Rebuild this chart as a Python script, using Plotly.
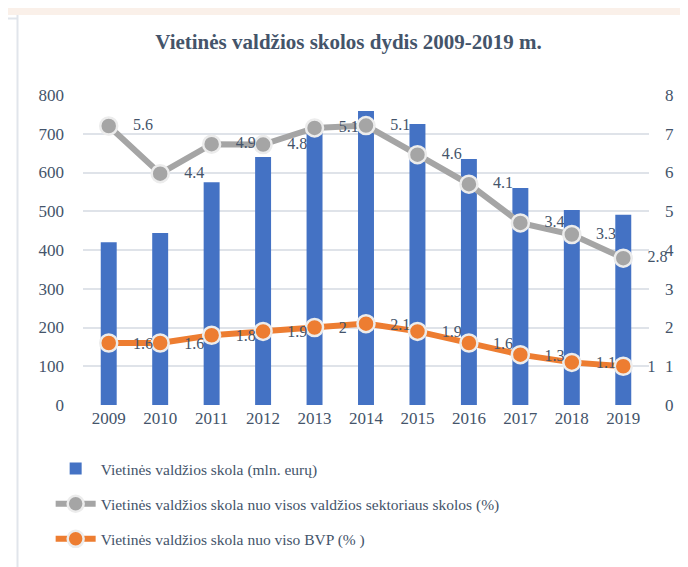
import plotly.graph_objects as go

years = ["2009", "2010", "2011", "2012", "2013", "2014", "2015", "2016", "2017", "2018", "2019"]
debt_mln = [420, 444, 575, 640, 705, 759, 725, 635, 560, 503, 491]
# grey line as drawn on the right axis, and the labels printed next to it
sector_share_plotted = [7.2, 5.97, 6.73, 6.72, 7.15, 7.21, 6.46, 5.7, 4.7, 4.4, 3.79]
sector_share_labels = ["5.6", "4.4", "4.9", "4.8", "5.1", "5.1", "4.6", "4.1", "3.4", "3.3", "2.8"]
gdp_share = [1.6, 1.6, 1.8, 1.9, 2.0, 2.1, 1.9, 1.6, 1.3, 1.1, 1.0]
gdp_share_labels = ["1.6", "1.6", "1.8", "1.9", "2", "2.1", "1.9", "1.6", "1.3", "1.1", "1"]
left_ticks = [0, 100, 200, 300, 400, 500, 600, 700, 800]
right_ticks = [0, 1, 2, 3, 4, 5, 6, 7, 8]

TEXT = "#44546a"
SERIF = "Liberation Serif, DejaVu Serif, serif"
xs = list(range(len(years)))
label_x = [x + 0.47 for x in xs]

fig = go.Figure()
fig.add_trace(go.Bar(
    x=xs, y=debt_mln, width=0.31, name="Vietinės valdžios skola (mln. eurų)",
    marker=dict(color="#4472c4", line=dict(width=0)),
    legendgroup="a",
))
fig.add_trace(go.Scatter(
    x=xs, y=sector_share_plotted, yaxis="y2", mode="lines+markers",
    name="Vietinės valdžios skola nuo visos valdžios sektoriaus skolos (%)",
    line=dict(color="#a5a5a5", width=6),
    marker=dict(color="#a5a5a5", size=17, line=dict(color="#ececec", width=2.5)),
    legendgroup="b",
))
fig.add_trace(go.Scatter(
    x=xs, y=gdp_share, yaxis="y2", mode="lines+markers",
    name="Vietinės valdžios skola nuo viso BVP (% )",
    line=dict(color="#ed7d31", width=6),
    marker=dict(color="#ed7d31", size=17, line=dict(color="#ececec", width=2.5)),
    legendgroup="c",
))
fig.add_trace(go.Scatter(
    x=label_x, y=sector_share_plotted, yaxis="y2", mode="text",
    text=sector_share_labels, textposition="middle right", cliponaxis=False,
    textfont=dict(family=SERIF, size=16, color=TEXT),
    showlegend=False, hoverinfo="skip",
))
fig.add_trace(go.Scatter(
    x=label_x, y=[v - 0.05 for v in gdp_share], yaxis="y2", mode="text",
    text=gdp_share_labels, textposition="middle right", cliponaxis=False,
    textfont=dict(family=SERIF, size=16, color=TEXT),
    showlegend=False, hoverinfo="skip",
))

# page frame: peach strip on top and thin grey borders
sx = lambda px: (px - 75) / 566
sy = lambda py: (397 - py) / 310
shapes = [
    dict(type="rect", xref="paper", yref="paper", x0=sx(0), x1=sx(688), y0=sy(7), y1=sy(0),
         fillcolor="#faf0e9", line=dict(width=0), layer="below"),
    dict(type="line", xref="paper", yref="paper", x0=sx(9.5), x1=sx(9.5), y0=sy(567), y1=sy(7),
         line=dict(color="#e1e5eb", width=2)),
    dict(type="line", xref="paper", yref="paper", x0=sx(684), x1=sx(684), y0=sy(567), y1=sy(7),
         line=dict(color="#e1e5eb", width=2)),
    dict(type="line", xref="paper", yref="paper", x0=sx(0), x1=sx(9), y0=sy(10.5), y1=sy(10.5),
         line=dict(color="#e1e5eb", width=2)),
]

fig.update_layout(
    width=688, height=567,
    margin=dict(l=75, r=47, t=87, b=170, autoexpand=False),
    paper_bgcolor="white", plot_bgcolor="white",
    title=dict(text="<b>Vietinės valdžios skolos dydis 2009-2019 m.</b>",
               x=0.495, xanchor="center", y=0.94, yanchor="middle",
               font=dict(family=SERIF, size=21, color=TEXT)),
    font=dict(family=SERIF, color=TEXT),
    xaxis=dict(range=[-0.5, 10.5], tickvals=xs, ticktext=years, showgrid=False,
               zeroline=False, showline=False, ticks="", ticklabelstandoff=1,
               tickangle=0, automargin=False,
               tickfont=dict(family=SERIF, size=17, color=TEXT)),
    yaxis=dict(range=[0, 800], tickvals=left_ticks, showgrid=True, gridcolor="#dfe3e9",
               gridwidth=1.5, zeroline=False, showline=False, ticks="", automargin=False,
               ticklabelstandoff=18, tickfont=dict(family=SERIF, size=17, color=TEXT)),
    yaxis2=dict(range=[0, 8], tickvals=right_ticks, overlaying="y", side="right",
                showgrid=False, zeroline=False, showline=False, ticks="", automargin=False,
                ticklabelstandoff=15, tickfont=dict(family=SERIF, size=17, color=TEXT)),
    legend=dict(orientation="v", xref="container", yref="container",
                x=0.062, xanchor="left", y=0.217, yanchor="top",
                tracegroupgap=12, itemwidth=40,
                font=dict(family=SERIF, size=15.5, color=TEXT)),
    shapes=shapes,
    showlegend=True,
)

fig.write_html("out.html")
